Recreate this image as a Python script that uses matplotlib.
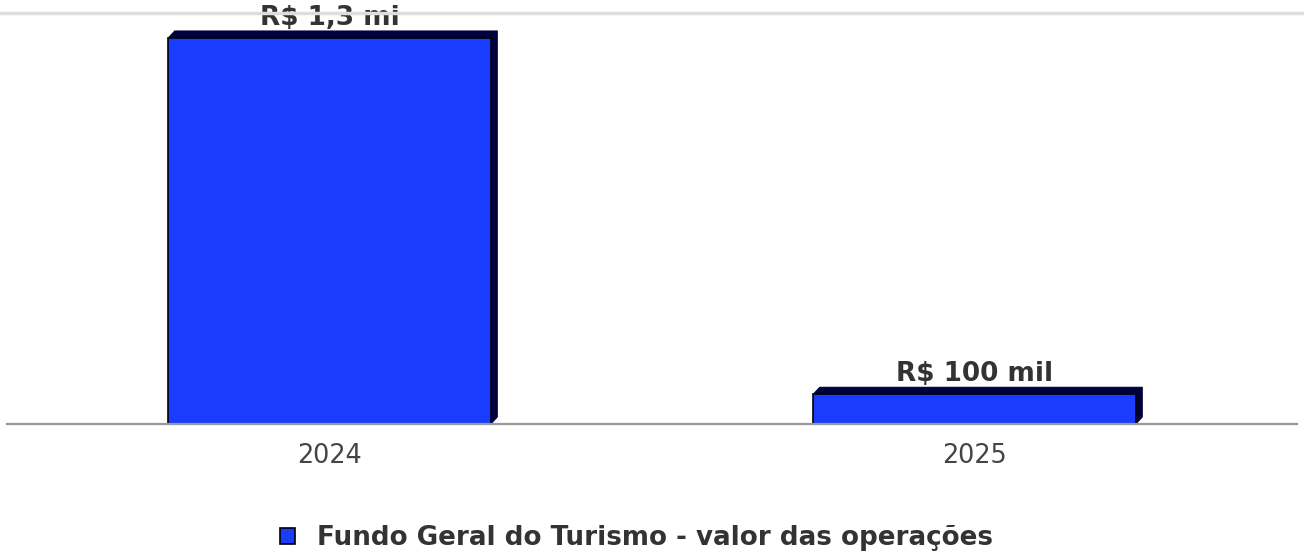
import matplotlib
matplotlib.use("Agg")
import matplotlib.pyplot as plt
from matplotlib.patches import Polygon, Rectangle
from matplotlib.lines import Line2D

plt.rcParams["font.family"] = ["DejaVu Sans"]

categories = ["2024", "2025"]
values = [1300000, 100000]
value_labels = ["R$ 1,3 mi", "R$ 100 mil"]
series_name = "Fundo Geral do Turismo - valor das operações"

W, H, DPI = 1304, 558, 100
fig = plt.figure(figsize=(W / DPI, H / DPI), dpi=DPI)
fig.patch.set_facecolor("white")

ax_left, ax_right = 7, 1297
ax_bottom, ax_top = 424, 12
ax = fig.add_axes([ax_left / W, 1 - ax_bottom / H, (ax_right - ax_left) / W, (ax_bottom - ax_top) / H])
ymax = values[0] * (ax_bottom - ax_top) / 386.0
ax.set_xlim(-0.5, 1.5)
ax.set_ylim(0, ymax)

front = "#1a3cff"
dark = "#00003c"
bar_w = 0.5
xs = list(range(len(categories)))

px_x = 2.0 / (ax_right - ax_left)
px_y = ymax / (ax_bottom - ax_top)
dx = 6.5 * px_x
dy = 7.0 * px_y

bars = ax.bar(xs, values, width=bar_w, color=front, edgecolor="black", linewidth=1.2, zorder=3)
for b in bars:
    x0 = b.get_x(); x1 = x0 + b.get_width(); h = b.get_height()
    top = Polygon([[x0, h], [x0 + dx, h + dy], [x1 + dx, h + dy], [x1, h]], closed=True,
                  facecolor=dark, edgecolor=dark, linewidth=0.8, zorder=2)
    side = Polygon([[x1, 0], [x1, h], [x1 + dx, h + dy], [x1 + dx, dy]], closed=True,
                   facecolor=dark, edgecolor=dark, linewidth=0.8, zorder=2)
    ax.add_patch(top); ax.add_patch(side)

for x, v, lab in zip(xs, values, value_labels):
    ax.annotate(lab, (x, v + dy), xytext=(0, 0.0), textcoords="offset points",
                ha="center", va="bottom", fontsize=18.9, fontweight="bold", color="#333333",
                zorder=5, annotation_clip=False)

ax.set_xticks(xs)
ax.set_xticklabels(categories, fontsize=18.4, color="#444444")
ax.tick_params(axis="x", length=0, pad=13.5)
ax.set_yticks([])
for s in ["top", "left", "right"]:
    ax.spines[s].set_visible(False)
ax.spines["bottom"].set_color("#9a9a9a")
ax.spines["bottom"].set_linewidth(1.6)
ax.spines["bottom"].set_zorder(4)

fig.add_artist(Line2D([0, 1], [1 - 13 / H, 1 - 13 / H], color="#dddddd", linewidth=2.5))

handle = Rectangle((0, 0), 1, 1, facecolor=front, edgecolor="black", linewidth=1.2)
leg = fig.legend([handle], [series_name], loc="center", bbox_to_anchor=(636.5 / W, 1 - 538 / H),
                 frameon=False, handlelength=0.58, handleheight=0.58, handletextpad=0.85,
                 prop={"size": 18.8, "weight": "bold", "family": "DejaVu Sans"})
for t in leg.get_texts():
    t.set_color("#333333")

fig.savefig("out.png", dpi=DPI, facecolor="white")
